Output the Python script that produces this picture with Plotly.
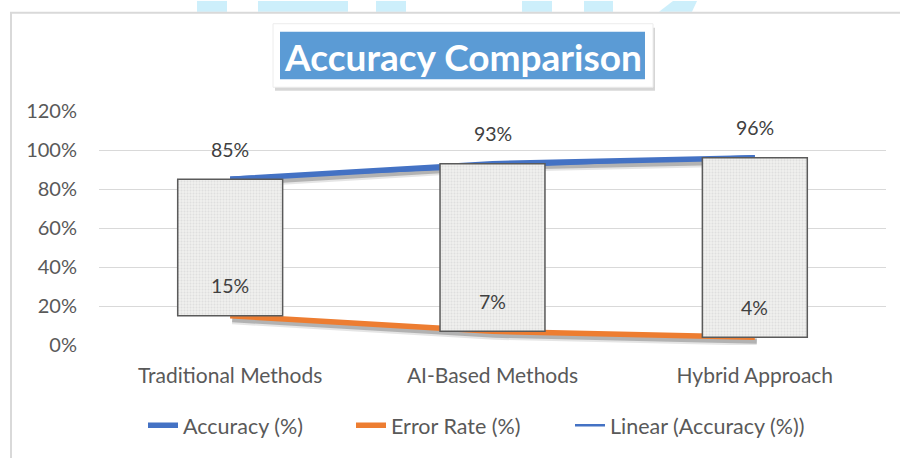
import numpy as np
import plotly.graph_objects as go

categories = ["Traditional Methods", "AI-Based Methods", "Hybrid Approach"]
accuracy = [0.85, 0.93, 0.96]
error_rate = [0.15, 0.07, 0.04]
acc_labels = ["85%", "93%", "96%"]
err_labels = ["15%", "7%", "4%"]

W, H = 900, 458
L, R, T, B = 99, 14, 111, 111
PW, PH = W - L - R, H - T - B

def px(x):
    return (x - L) / PW

def py(y):
    return (H - B - y) / PH

BLUE = "#4472C4"
ORANGE = "#ED7D31"
TXT = "#595959"
FONT = "Lato"

# linear trendline of accuracy
idx = np.arange(len(accuracy))
slope, intercept = np.polyfit(idx, accuracy, 1)
trend = list(intercept + slope * idx)

fig = go.Figure()

# base axis holder (invisible)
fig.add_trace(go.Scatter(x=categories, y=accuracy, mode="lines", line=dict(width=0),
                         showlegend=False, hoverinfo="skip", xaxis="x", yaxis="y", opacity=0))

# soft shadows under the series lines
for vals in (accuracy, error_rate):
    fig.add_trace(go.Scatter(x=categories, y=vals, mode="lines",
                             line=dict(color="rgba(0,0,0,0.10)", width=9),
                             showlegend=False, hoverinfo="skip", xaxis="x2", yaxis="y2"))
    fig.add_trace(go.Scatter(x=categories, y=vals, mode="lines",
                             line=dict(color="rgba(0,0,0,0.22)", width=5),
                             showlegend=False, hoverinfo="skip", xaxis="x2", yaxis="y2"))

# series lines
fig.add_trace(go.Scatter(x=categories, y=accuracy, mode="lines", name="Accuracy (%)",
                         line=dict(color=BLUE, width=5.5), xaxis="x3", yaxis="y3", legend="legend"))
fig.add_trace(go.Scatter(x=categories, y=error_rate, mode="lines", name="Error Rate (%)",
                         line=dict(color=ORANGE, width=5.5), xaxis="x3", yaxis="y3", legend="legend2"))
fig.add_trace(go.Scatter(x=categories, y=trend, mode="lines", name="Linear (Accuracy (%))",
                         line=dict(color=BLUE, width=2.5), xaxis="x3", yaxis="y3", legend="legend3"))

# up/down bars
fig.add_trace(go.Bar(x=categories, y=[a - e for a, e in zip(accuracy, error_rate)], base=error_rate,
                     width=0.4, showlegend=False, hoverinfo="skip",
                     marker=dict(color="#efefed", line=dict(color="#5a5a5a", width=1.5),
                                 pattern=dict(shape=".", fgcolor="#cfcfcf", size=3, solidity=0.35,
                                              fillmode="overlay")),
                     xaxis="x4", yaxis="y4"))

xr = [-0.5, 2.5]
yr = [0, 1.2]
dx = 2 / (PW / 3)
dy = 4 * 1.2 / PH

hidden = dict(visible=False, showgrid=False, zeroline=False)

def leg(x):
    return dict(orientation="h", x=px(x), xanchor="left", y=py(428), yanchor="middle",
                font=dict(size=21.5, color=TXT, family=FONT), bgcolor="rgba(0,0,0,0)",
                itemwidth=30)

fig.update_layout(
    width=W, height=H,
    margin=dict(l=L, r=R, t=T, b=B),
    paper_bgcolor="white", plot_bgcolor="white",
    font=dict(family=FONT, color=TXT, size=19),
    barmode="overlay",
    xaxis=dict(type="category", categoryarray=categories, range=xr, showgrid=False,
               zeroline=False, showline=False, ticks="", ticklabelstandoff=16,
               tickfont=dict(size=21, color=TXT, family=FONT)),
    yaxis=dict(range=yr, dtick=0.2, tickformat=".0%", showgrid=True, gridcolor="#d9d9d9",
               gridwidth=1.3, zeroline=False, showline=False, ticklabelstandoff=21,
               tickfont=dict(size=20, color=TXT, family=FONT)),
    xaxis2=dict(type="category", categoryarray=categories, range=[xr[0] - dx, xr[1] - dx],
                overlaying="x", **hidden),
    yaxis2=dict(range=[yr[0] + dy, yr[1] + dy], overlaying="y", **hidden),
    xaxis3=dict(type="category", categoryarray=categories, range=xr, overlaying="x", **hidden),
    yaxis3=dict(range=yr, overlaying="y", **hidden),
    xaxis4=dict(type="category", categoryarray=categories, range=xr, overlaying="x", **hidden),
    yaxis4=dict(range=yr, overlaying="y", **hidden),
    legend=leg(143),
    legend2=leg(351),
    legend3=leg(570),
)

annotations = []
for c, v, t in zip(categories, accuracy, acc_labels):
    annotations.append(dict(x=c, y=v, xref="x3", yref="y3", text=t, showarrow=False,
                            yshift=30, font=dict(size=19.5, color="#404040", family=FONT)))
for c, v, t in zip(categories, error_rate, err_labels):
    annotations.append(dict(x=c, y=v, xref="x4", yref="y4", text=t, showarrow=False,
                            yshift=30, font=dict(size=19.5, color="#404040", family=FONT)))
annotations.append(dict(x=px(462.5), y=py(56), xref="paper", yref="paper", text="<b>Accuracy Comparison</b>",
                        showarrow=False, xanchor="center", yanchor="middle",
                        font=dict(size=37, color="white", family=FONT)))
fig.update_layout(annotations=annotations)

shapes = []
# cyan watermark blocks at top
for x0, x1 in [(197, 227), (258, 348), (376, 406), (522, 552), (584, 613)]:
    shapes.append(dict(type="rect", xref="paper", yref="paper", x0=px(x0), x1=px(x1),
                       y0=py(11), y1=py(0), fillcolor="#cdeffb", line=dict(width=0), layer="below"))
shapes.append(dict(type="path", xref="paper", yref="paper",
                   path=f"M {px(659)} {py(11)} L {px(673)} {py(0)} L {px(697)} {py(0)} L {px(692)} {py(11)} Z",
                   fillcolor="#cdeffb", line=dict(width=0), layer="below"))
# outer chart border
shapes.append(dict(type="rect", xref="paper", yref="paper", x0=px(11), x1=px(930), y0=py(490), y1=py(12),
                   fillcolor="rgba(0,0,0,0)", line=dict(color="#d9d9d9", width=2), layer="below"))
# title box: shadow, white frame, blue fill
shapes.append(dict(type="rect", xref="paper", yref="paper", x0=px(275), x1=px(655), y0=py(90.5), y1=py(27),
                   fillcolor="rgba(0,0,0,0.16)", line=dict(width=0), layer="above"))
shapes.append(dict(type="rect", xref="paper", yref="paper", x0=px(273), x1=px(653), y0=py(87), y1=py(23),
                   fillcolor="white", line=dict(color="#ececec", width=1), layer="above"))
shapes.append(dict(type="rect", xref="paper", yref="paper", x0=px(280), x1=px(645), y0=py(79), y1=py(31),
                   fillcolor="#5B9BD5", line=dict(width=0), layer="above"))
fig.update_layout(shapes=shapes)

fig.write_html("out.html", config={"displayModeBar": False},
               post_script="document.body.style.margin='0px';")
